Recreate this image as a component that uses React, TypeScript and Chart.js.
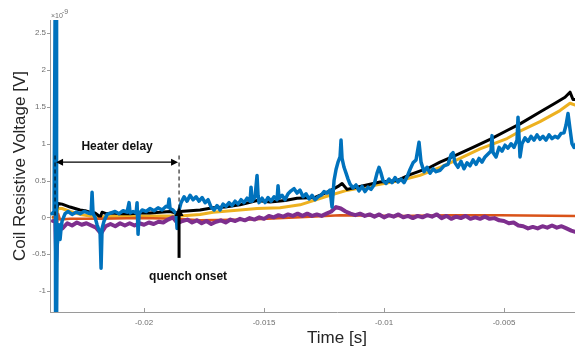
import React, { useEffect, useRef } from "react";
import { Chart, registerables } from "chart.js";
Chart.register(...registerables);

// Axis ranges and tick labels
const xTicks = [-0.02, -0.015, -0.01, -0.005];
const yTicks = [-1, -0.5, 0, 0.5, 1, 1.5, 2, 2.5];
const xMin = -0.02392;
const xMax = 0;
const yMin = -1.285;
const yMax = 2.68;

// Blue channel (values in 1e-9 V)
const blueTime = [
  -0.023833, -0.02375, -0.023708, -0.023688, -0.023667, -0.023646, -0.023625, -0.023583, -0.023542, -0.0235,
  -0.023458, -0.023417, -0.023292, -0.023167, -0.023, -0.022833, -0.022667, -0.0225, -0.022333, -0.022208,
  -0.022167, -0.022125, -0.022042, -0.021958, -0.021875, -0.021833, -0.021792, -0.02175, -0.021667, -0.021542,
  -0.021375, -0.021208, -0.021042, -0.020875, -0.020708, -0.020625, -0.020583, -0.020458, -0.020333, -0.020292,
  -0.02025, -0.020208, -0.020083, -0.019917, -0.01975, -0.019583, -0.019417, -0.01925, -0.019083, -0.019,
  -0.018958, -0.018917, -0.018792, -0.018667, -0.018625, -0.018583, -0.018542,
  -0.018458, -0.018333, -0.018208, -0.018083, -0.017958, -0.017833, -0.017708, -0.017583, -0.017458, -0.017333,
  -0.017208, -0.017083, -0.016958, -0.016833, -0.016708, -0.016583, -0.016458, -0.016333, -0.016208, -0.016083,
  -0.015958, -0.015833, -0.015708, -0.015583, -0.015542, -0.0155, -0.015375, -0.015292, -0.01525, -0.015208,
  -0.015083, -0.014958, -0.014833, -0.014708, -0.014583, -0.014458, -0.014417, -0.014375, -0.01425, -0.014125,
  -0.014, -0.013875, -0.01375, -0.013625, -0.0135, -0.013375, -0.01325, -0.013125, -0.013, -0.012875,
  -0.01275, -0.012625, -0.0125, -0.012375, -0.01225, -0.012167, -0.012083, -0.012, -0.011917, -0.011833,
  -0.011792, -0.01175, -0.011667, -0.011583, -0.0115, -0.011417, -0.011292, -0.011167, -0.011042, -0.010917,
  -0.010792, -0.010667, -0.010542, -0.010417, -0.010292, -0.010208, -0.010125, -0.010042, -0.009917, -0.009792,
  -0.009667, -0.009542, -0.009417, -0.009292, -0.009167, -0.009042, -0.008917, -0.008792, -0.008667, -0.008542,
  -0.008458, -0.008333, -0.008208, -0.008083, -0.007958, -0.007833, -0.007667, -0.0075, -0.007333, -0.007208,
  -0.007125, -0.007042, -0.006917, -0.006792, -0.006667, -0.006542, -0.006417, -0.006292, -0.006167, -0.006042,
  -0.005917, -0.005792, -0.005667, -0.005542, -0.0055, -0.005458, -0.005333, -0.005208, -0.005083, -0.004958,
  -0.004833, -0.004708, -0.004583, -0.004458, -0.004417, -0.004375, -0.004333, -0.00425, -0.004125, -0.004,
  -0.003875, -0.00375, -0.003625, -0.0035, -0.003375, -0.00325, -0.003125, -0.003, -0.002875, -0.00275,
  -0.002625, -0.0025, -0.002417, -0.002333, -0.00225, -0.002167, -0.002083, -0.002,
];
const blueVolt = [
  0.05, 0.08, 2.8, -1.4, 2.8, -1.4, -0.4, -0.25, -0.1, -0.3,
  -0.15, -0.05, 0.05, 0.08, 0.04, 0.07, 0.05, 0.08, 0.06, 0.05,
  0.34, 0.05, 0.0, -0.1, -0.18, -0.2, -0.69, -0.15, -0.05, 0.04,
  0.06, 0.08, 0.05, 0.09, 0.07, 0.2, 0.06, 0.08, 0.06, 0.2,
  -0.23, 0.05, 0.1, 0.08, 0.12, 0.09, 0.13, 0.1, 0.15, 0.14,
  0.25, 0.12, 0.1, 0.05, -0.15, -0.05, 0.1,
  0.2, 0.28, 0.22, 0.3, 0.24, 0.28, 0.22, 0.27, 0.2, 0.24,
  0.14, 0.1, 0.16, 0.1, 0.18, 0.15, 0.2, 0.16, 0.22, 0.18,
  0.24, 0.2, 0.26, 0.22, 0.41, 0.22, 0.28, 0.57, 0.3, 0.2,
  0.26, 0.2, 0.27, 0.22, 0.28, 0.24, 0.43, 0.26, 0.3, 0.24,
  0.32, 0.36, 0.39, 0.33, 0.37, 0.28, 0.32, 0.25, 0.3, 0.24,
  0.28, 0.3, 0.35, 0.33, 0.37, 0.14, 0.5, 0.65, 0.75, 0.82,
  1.05, 0.8, 0.68, 0.6, 0.52, 0.45, 0.4, 0.44, 0.36, 0.42,
  0.35, 0.41, 0.38, 0.44, 0.6, 0.68, 0.6, 0.5, 0.46, 0.52,
  0.47, 0.54, 0.48, 0.52, 0.47, 0.55, 0.65, 0.74, 0.78, 1.02,
  0.75, 0.62, 0.68, 0.6, 0.66, 0.62, 0.64, 0.7, 0.72, 0.85,
  0.88, 0.74, 0.68, 0.76, 0.66, 0.74, 0.7, 0.78, 0.72, 0.8,
  0.75, 0.82, 0.86, 0.9, 1.11, 0.88, 0.82, 0.95, 0.9, 0.98,
  0.94, 1.0, 0.95, 1.05, 1.36, 1.1, 0.82, 1.0, 1.08, 1.03,
  1.1, 1.05, 1.12, 1.06, 1.1, 1.05, 1.12, 1.07, 1.1, 1.08,
  1.14, 1.15, 1.25, 1.41, 1.2, 1.0, 0.95, 1.0,
];

// Black channel
const blackTime = [
  -0.023792, -0.023667, -0.023583, -0.023417, -0.02325, -0.023083, -0.022875, -0.022667, -0.022458, -0.02225,
  -0.022042, -0.021917, -0.021833, -0.02175, -0.021583, -0.02133, -0.021, -0.020583, -0.020167, -0.01975,
  -0.019333, -0.018917, -0.018667, -0.0185, -0.018083, -0.017667, -0.017125, -0.016625, -0.016, -0.015292,
  -0.01475, -0.014125, -0.013625, -0.012875, -0.01225, -0.011917, -0.01175, -0.011542, -0.011, -0.010167,
  -0.009458, -0.008917, -0.008083, -0.007667, -0.007042, -0.006292, -0.005583, -0.004875, -0.004333, -0.0035,
  -0.002875, -0.002458, -0.00225, -0.002125, -0.002,
];
const blackVolt = [
  0.05, 0.08, 0.19, 0.18, 0.16, 0.14, 0.12, 0.1, 0.09, 0.07,
  0.06, 0.03, 0.0, 0.07, 0.05, 0.06, 0.05, 0.05, 0.06, 0.06,
  0.07, 0.08, 0.06, 0.08, 0.09, 0.1, 0.13, 0.14, 0.17, 0.23,
  0.21, 0.23, 0.26, 0.27, 0.36, 0.42, 0.46, 0.38, 0.42, 0.48,
  0.5, 0.58, 0.68, 0.75, 0.84, 0.95, 1.06, 1.18, 1.27, 1.43,
  1.55, 1.63, 1.7, 1.6, 1.6,
];

// Yellow channel
const yellowTime = [
  -0.023792, -0.023667, -0.023583, -0.023417, -0.023083, -0.022667, -0.02225, -0.021833, -0.020583, -0.018667,
  -0.0185, -0.017667, -0.017125, -0.016, -0.015292, -0.014333, -0.0135, -0.01225, -0.011625, -0.011,
  -0.010167, -0.009333, -0.0085, -0.007667, -0.006833, -0.006, -0.004875, -0.004333, -0.0035, -0.002667,
  -0.00225, -0.002,
];
const yellowVolt = [
  0.0, 0.02, 0.12, 0.12, 0.08, 0.04, 0.02, 0.01, 0.02, 0.02,
  0.02, 0.04, 0.07, 0.1, 0.12, 0.13, 0.17, 0.3, 0.36, 0.4,
  0.45, 0.5, 0.57, 0.68, 0.8, 0.93, 1.07, 1.17, 1.3, 1.45,
  1.55, 1.52,
];

// Orange channel
const orangeTime = [
  -0.023792, -0.023708, -0.023667, -0.023625, -0.023583, -0.0235, -0.023083, -0.021833, -0.020167, -0.018667,
  -0.017667, -0.015583, -0.0135, -0.011833, -0.009333, -0.00725, -0.005167, -0.002,
];
const orangeVolt = [
  0.0, 0.0, 0.15, -0.08, 0.05, -0.03, -0.02, -0.02, -0.01, -0.02,
  -0.04, -0.03, 0.0, 0.03, 0.02, 0.03, 0.03, 0.02,
];

// Purple channel
const purpleTime = [
  -0.0238, -0.0237, -0.02366, -0.02362, -0.0236, -0.0234, -0.0232, -0.023, -0.0228, -0.0226,
  -0.0224, -0.0222, -0.022, -0.0218, -0.0216, -0.0214, -0.0212, -0.021, -0.0208, -0.0206,
  -0.0204, -0.0202, -0.02, -0.0198, -0.0196, -0.0194, -0.0192, -0.019, -0.0188, -0.0186,
  -0.0184, -0.0182, -0.018, -0.0178, -0.0176, -0.0174, -0.0172, -0.017, -0.0168, -0.0166,
  -0.0164, -0.0162, -0.016, -0.0158, -0.0156, -0.0154, -0.0152, -0.015, -0.0148, -0.0146,
  -0.0144, -0.0142, -0.014, -0.0138, -0.0136, -0.0134, -0.0132, -0.013, -0.0128, -0.0126,
  -0.0124, -0.0122, -0.012, -0.0118, -0.0116, -0.0114, -0.0112, -0.011, -0.0108, -0.0106,
  -0.0104, -0.0102, -0.01, -0.0098, -0.0096, -0.0094, -0.0092, -0.009, -0.0088, -0.0086,
  -0.0084, -0.0082, -0.008, -0.0078, -0.0076, -0.0074, -0.0072, -0.007, -0.0068, -0.0066,
  -0.0064, -0.0062, -0.006, -0.0058, -0.0056, -0.0054, -0.0052, -0.005, -0.0048, -0.0046,
  -0.0044, -0.0042, -0.004, -0.0038, -0.0036, -0.0034, -0.0032, -0.003, -0.0028, -0.0026,
  -0.0024, -0.0022, -0.002,
];
const purpleVolt = [
  -0.05, -0.05, -0.6, -0.3, -0.14, -0.15, -0.08, -0.11, -0.07, -0.1,
  -0.08, -0.11, -0.14, -0.22, -0.12, -0.09, -0.12, -0.08, -0.11, -0.08,
  -0.11, -0.08, -0.1, -0.07, -0.09, -0.06, -0.07, -0.03, 0.0, -0.08,
  -0.05, -0.03, -0.07, -0.04, -0.08, -0.05, -0.09, -0.06, -0.04, -0.07,
  -0.03, -0.05, -0.02, -0.04, -0.01, -0.03, 0.0, -0.02, 0.02, 0.0,
  0.03, 0.01, 0.04, 0.02, 0.05, 0.02, 0.05, 0.02, 0.04, 0.02,
  0.05, 0.08, 0.14, 0.12, 0.08, 0.05, 0.03, 0.05, 0.02, 0.04,
  0.01, 0.04, 0.0, 0.03, 0.01, 0.04, 0.0, 0.02, -0.01, 0.02,
  0.0, 0.03, 0.01, 0.04, -0.01, 0.02, -0.02, 0.01, -0.01, 0.02,
  -0.02, 0.0, -0.02, 0.01, -0.02, -0.01, -0.04, -0.05, -0.08, -0.07,
  -0.11, -0.12, -0.15, -0.13, -0.15, -0.12, -0.14, -0.11, -0.14, -0.12,
  -0.15, -0.18, -0.2,
];

// Annotations (data coordinates)
const heaterStart = -0.02371;
const quenchOnset = -0.018542;
const heaterArrowLevel = 0.75;
const dashTop = 0.84;
const heaterLabel = "Heater delay";
const heaterLabelPos = [-0.021125, 0.954];
const quenchLabel = "quench onset";
const quenchLabelPos = [-0.019792, -0.81];
const quenchArrowFrom = -0.55;
const quenchArrowTo = 0.14;

const FONT = "'Liberation Sans', Arial, Helvetica, sans-serif";

function zip(t: number[], v: number[]) {
  return t.map((x, i) => ({ x, y: v[i] }));
}

export default function App() {
  const ref = useRef<HTMLCanvasElement>(null);

  useEffect(() => {
    document.body.style.margin = "0";
    const canvas = ref.current;
    if (!canvas) return;

    const overlay = {
      id: "overlay",
      afterDatasetsDraw(chart: any) {
        const { ctx, chartArea, scales } = chart;
        const xs = scales.x;
        const ys = scales.y;
        ctx.save();
        // tick marks
        ctx.strokeStyle = "#9a9a9a";
        ctx.lineWidth = 1;
        for (const v of yTicks) {
          const py = Math.round(ys.getPixelForValue(v)) + 0.5;
          ctx.beginPath();
          ctx.moveTo(chartArea.left - 3, py);
          ctx.lineTo(chartArea.left, py);
          ctx.stroke();
        }
        for (const v of xTicks) {
          const px = Math.round(xs.getPixelForValue(v)) + 0.5;
          ctx.beginPath();
          ctx.moveTo(px, chartArea.bottom);
          ctx.lineTo(px, chartArea.bottom - 4);
          ctx.stroke();
        }

        // dashed lines
        ctx.strokeStyle = "#000";
        ctx.lineWidth = 1;
        ctx.setLineDash([4, 3]);
        const xl = xs.getPixelForValue(heaterStart);
        const xr = xs.getPixelForValue(quenchOnset);
        const yTop = ys.getPixelForValue(dashTop);
        ctx.beginPath();
        ctx.moveTo(xl, yTop);
        ctx.lineTo(xl, ys.getPixelForValue(0.0));
        ctx.moveTo(xr, yTop);
        ctx.lineTo(xr, ys.getPixelForValue(0.1));
        ctx.stroke();
        ctx.setLineDash([]);

        // double arrow
        const ya = ys.getPixelForValue(heaterArrowLevel);
        ctx.lineWidth = 1.3;
        ctx.beginPath();
        ctx.moveTo(xl + 4, ya);
        ctx.lineTo(xr - 4, ya);
        ctx.stroke();
        ctx.fillStyle = "#000";
        ctx.beginPath();
        ctx.moveTo(xl + 1, ya);
        ctx.lineTo(xl + 8, ya - 3.5);
        ctx.lineTo(xl + 8, ya + 3.5);
        ctx.closePath();
        ctx.fill();
        ctx.beginPath();
        ctx.moveTo(xr - 1, ya);
        ctx.lineTo(xr - 8, ya - 3.5);
        ctx.lineTo(xr - 8, ya + 3.5);
        ctx.closePath();
        ctx.fill();

        // quench arrow
        const yq0 = ys.getPixelForValue(quenchArrowFrom);
        const yq1 = ys.getPixelForValue(quenchArrowTo);
        ctx.lineWidth = 3;
        ctx.beginPath();
        ctx.moveTo(xr, yq0);
        ctx.lineTo(xr, yq1 + 7);
        ctx.stroke();
        ctx.beginPath();
        ctx.moveTo(xr, yq1);
        ctx.lineTo(xr - 4.5, yq1 + 9);
        ctx.lineTo(xr + 4.5, yq1 + 9);
        ctx.closePath();
        ctx.fill();

        // labels
        ctx.fillStyle = "#111";
        ctx.font = `bold 12px ${FONT}`;
        ctx.textBaseline = "middle";
        ctx.textAlign = "center";
        ctx.fillText(heaterLabel, xs.getPixelForValue(heaterLabelPos[0]), ys.getPixelForValue(heaterLabelPos[1]));
        ctx.textAlign = "left";
        ctx.fillText(quenchLabel, xs.getPixelForValue(quenchLabelPos[0]), ys.getPixelForValue(quenchLabelPos[1]));

        // axis titles
        ctx.fillStyle = "#262626";
        ctx.font = `17px ${FONT}`;
        ctx.textAlign = "center";
        ctx.textBaseline = "middle";
        ctx.fillText("Time [s]", (chartArea.left + chartArea.right) / 2, 338);
        ctx.save();
        ctx.translate(20, (chartArea.top + chartArea.bottom) / 2);
        ctx.rotate(-Math.PI / 2);
        ctx.fillText("Coil Resistive Voltage [V]", 0, 0);
        ctx.restore();

        // exponent label
        ctx.fillStyle = "#6e6e6e";
        ctx.textAlign = "left";
        ctx.textBaseline = "alphabetic";
        ctx.font = `7px ${FONT}`;
        ctx.fillText("\u00d710", chartArea.left + 1, chartArea.top - 2);
        ctx.fillText("-9", chartArea.left + 12, chartArea.top - 6);
        ctx.restore();
      },
    };

    const common = { pointRadius: 0, fill: false, tension: 0, borderJoinStyle: "round" as const, borderCapStyle: "round" as const };

    const chart = new Chart(canvas, {
      type: "line",
      data: {
        datasets: [
          { label: "blue", data: zip(blueTime, blueVolt), borderColor: "#0072BD", borderWidth: 3.5, order: 0, ...common },
          { label: "purple", data: zip(purpleTime, purpleVolt), borderColor: "#7E2F8E", borderWidth: 4, order: 1, ...common },
          { label: "orange", data: zip(orangeTime, orangeVolt), borderColor: "#D95319", borderWidth: 2.5, order: 2, ...common },
          { label: "black", data: zip(blackTime, blackVolt), borderColor: "#000000", borderWidth: 3, order: 3, ...common },
          { label: "yellow", data: zip(yellowTime, yellowVolt), borderColor: "#EDB120", borderWidth: 3, order: 4, ...common },
        ],
      },
      options: {
        animation: false,
        responsive: false,
        maintainAspectRatio: false,
        events: [],
        layout: { padding: { top: 20, right: 6, left: 0, bottom: 0 } },
        plugins: { legend: { display: false }, tooltip: { enabled: false } },
        scales: {
          x: {
            type: "linear",
            min: xMin,
            max: xMax,
            afterBuildTicks: (s: any) => {
              s.ticks = xTicks.map((v) => ({ value: v }));
            },
            afterFit: (s: any) => {
              s.height = 37;
            },
            grid: { display: false, drawTicks: false },
            border: { display: true, color: "#9a9a9a", width: 1 },
            ticks: {
              font: { family: FONT, size: 8 },
              color: "#6e6e6e",
              padding: 6,
              maxRotation: 0,
              autoSkip: false,
              callback: (v: any) => String(v),
            },
          },
          y: {
            type: "linear",
            min: yMin,
            max: yMax,
            afterBuildTicks: (s: any) => {
              s.ticks = yTicks.map((v) => ({ value: v }));
            },
            afterFit: (s: any) => {
              s.width = 50;
            },
            grid: { display: false, drawTicks: false },
            border: { display: true, color: "#9a9a9a", width: 1 },
            ticks: {
              font: { family: FONT, size: 8 },
              color: "#6e6e6e",
              padding: 4,
              autoSkip: false,
              callback: (v: any) => String(v),
            },
          },
        },
      },
      plugins: [overlay],
    });
    return () => chart.destroy();
  }, []);

  return (
    <div style={{ width: 575, height: 349, overflow: "hidden", position: "relative", background: "#fff" }}>
      <canvas ref={ref} width={630} height={349} style={{ display: "block", width: 630, height: 349 }} />
    </div>
  );
}
